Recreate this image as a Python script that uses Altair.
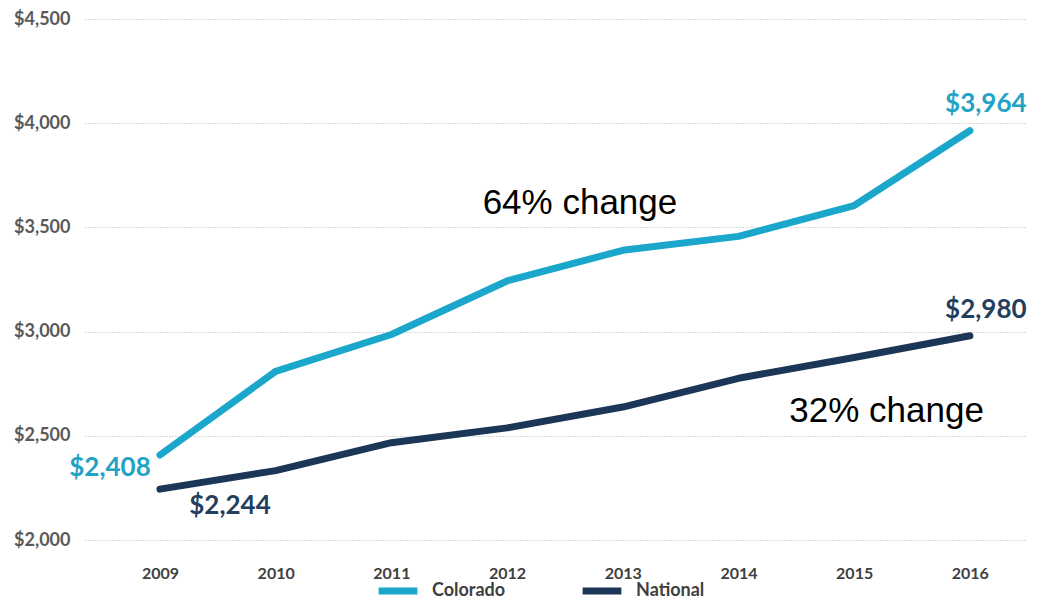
import altair as alt
import pandas as pd

years = [2009, 2010, 2011, 2012, 2013, 2014, 2015, 2016]
colorado = [2408, 2809, 2986, 3243, 3390, 3457, 3605, 3964]
national = [2244, 2333, 2467, 2538, 2638, 2776, 2876, 2980]
series_names = ["Colorado", "National"]
series_colors = ["#1AA7CB", "#1B3656"]
y_ticks = [2000, 2500, 3000, 3500, 4000, 4500]

annot_text = ["64% change", "32% change"]
annot_year = [2012.63, 2015.28]
annot_value = [3619, 2619]

rows = []
for y, c, n in zip(years, colorado, national):
    rows.append({"year": y, "value": c, "series": "Colorado"})
    rows.append({"year": y, "value": n, "series": "National"})
df = pd.DataFrame(rows)
ann = pd.DataFrame({"text": annot_text, "year": annot_year, "value": annot_value})

xscale = alt.Scale(domain=[2008.352, 2016.494], nice=False, zero=False)
yscale = alt.Scale(domain=[2000, 4500], nice=False, zero=False)

x_enc = alt.X("year:Q", scale=xscale, axis=alt.Axis(
    values=years, format="d", title=None, grid=False, domain=False, ticks=False,
    labelFont="Lato", labelFontWeight="bold", labelFontSize=16, labelColor="#404040",
    labelPadding=25))
y_enc = alt.Y("value:Q", scale=yscale, axis=alt.Axis(
    values=y_ticks, format="$,.0f", title=None, grid=True, gridColor="#b0b0b0",
    gridDash=[1, 2], gridWidth=1, domain=False, ticks=False,
    labelFont="Lato", labelFontWeight="bold", labelFontSize=18, labelColor="#595959",
    labelPadding=15))

lines = alt.Chart(df).mark_line(strokeWidth=7, interpolate="linear", strokeCap="round",
                                strokeJoin="round").encode(
    x=x_enc, y=y_enc,
    color=alt.Color("series:N", scale=alt.Scale(domain=series_names, range=series_colors),
                    legend=alt.Legend(title=None, orient="none", legendX=290, legendY=549,
                                      direction="horizontal", symbolType="stroke",
                                      symbolStrokeWidth=7, symbolSize=1500,
                                      labelFont="Lato", labelFontWeight="bold",
                                      labelFontSize=18, labelColor="#404040",
                                      columnPadding=62, labelOffset=11)),
)

def val_label(series, year, color, dx, dy):
    return alt.Chart(df).transform_filter(
        (alt.datum.series == series) & (alt.datum.year == year)
    ).mark_text(font="Lato", fontWeight="bold", fontSize=26, color=color,
                dx=dx, dy=dy, align="center", baseline="middle").encode(
        x=alt.X("year:Q", scale=xscale), y=alt.Y("value:Q", scale=yscale),
        text=alt.Text("value:Q", format="$,.0f"))

labels = [
    val_label("Colorado", 2009, "#22A3C5", -50, 13),
    val_label("National", 2009, "#243F5E", 70, 17),
    val_label("Colorado", 2016, "#22A3C5", 16, -27),
    val_label("National", 2016, "#243F5E", 16, -26),
]

annots = alt.Chart(ann).mark_text(font="Liberation Sans", fontSize=35, color="#000000",
                                   align="center", baseline="middle").encode(
    x=alt.X("year:Q", scale=xscale), y=alt.Y("value:Q", scale=yscale), text="text:N")

chart = alt.layer(lines, *labels, annots).properties(
    width=942, height=521,
    autosize=alt.AutoSizeParams(type="none"),
    padding={"left": 77, "top": 11, "right": 0, "bottom": 60},
).configure(background="white").configure_view(stroke=None)

chart.save("out.html", embed_options={"renderer": "svg", "actions": False})
